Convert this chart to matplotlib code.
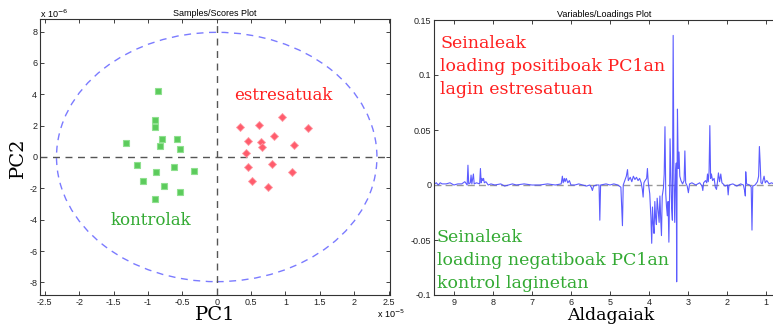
import matplotlib
matplotlib.use("Agg")
import matplotlib.pyplot as plt
import numpy as np
from matplotlib.patches import Ellipse

# ---------------- data ----------------
# scores (PC1 in units of 1e-5, PC2 in units of 1e-6)
kontrol_pc1 = [-0.86, -0.90, -0.90, -1.32, -0.80, -0.58, -0.83, -0.54,
               -1.16, -0.89, -0.62, -0.33, -1.07, -0.77, -0.54, -0.90]
kontrol_pc2 = [4.24, 2.39, 1.89, 0.89, 1.12, 1.12, 0.70, 0.53,
               -0.53, -0.97, -0.61, -0.89, -1.53, -1.86, -2.22, -2.71]
estres_pc1 = [0.34, 0.62, 0.95, 1.33, 0.46, 0.64, 0.84, 0.66,
              1.12, 0.42, 0.46, 0.80, 1.10, 0.51, 0.75]
estres_pc2 = [1.89, 2.03, 2.56, 1.86, 1.02, 0.97, 1.33, 0.61,
              0.78, 0.25, -0.61, -0.44, -0.97, -1.53, -1.89]
ellipse_a = 2.33   # PC1 semi-axis (1e-5)
ellipse_b = 7.95   # PC2 semi-axis (1e-6)

# loadings spectrum (ppm, PC1 loading)
ppm = [9.50, 9.45, 9.40, 9.35, 9.30, 9.20, 9.10, 9.00, 8.90, 8.80, 8.72, 8.66,
       8.64, 8.62, 8.58, 8.56, 8.54, 8.50, 8.48, 8.42, 8.34, 8.32, 8.30, 8.28,
       8.26, 8.24, 8.22, 8.18, 8.12, 8.05, 7.95, 7.80, 7.70, 7.60, 7.50, 7.40,
       7.20, 7.00, 6.80, 6.60, 6.40, 6.25, 6.22, 6.20, 6.17, 6.15, 6.12, 6.08,
       6.04, 6.00, 5.90, 5.80, 5.70, 5.60, 5.52, 5.48, 5.45, 5.42, 5.35, 5.28,
       5.26, 5.24, 5.10, 5.00, 4.90, 4.80, 4.72, 4.68, 4.66, 4.62, 4.58, 4.55,
       4.53, 4.48, 4.44, 4.40, 4.36, 4.32, 4.28, 4.24, 4.20, 4.17, 4.15, 4.13,
       4.10, 4.06, 4.04, 4.02, 3.98, 3.95, 3.93, 3.91, 3.89, 3.87, 3.85, 3.83,
       3.81, 3.79, 3.76, 3.74, 3.72, 3.70, 3.68, 3.66, 3.63, 3.61, 3.59, 3.57,
       3.55, 3.53, 3.51, 3.49, 3.47, 3.46, 3.44, 3.42, 3.40, 3.38, 3.36, 3.34,
       3.32, 3.30, 3.29, 3.28, 3.27, 3.25, 3.23, 3.21, 3.18, 3.14, 3.10, 3.08,
       3.06, 3.02, 2.99, 2.96, 2.90, 2.80, 2.70, 2.64, 2.62, 2.60, 2.55, 2.52,
       2.50, 2.48, 2.46, 2.44, 2.42, 2.40, 2.37, 2.33, 2.30, 2.27, 2.24, 2.22,
       2.19, 2.16, 2.13, 2.10, 2.05, 1.99, 1.97, 1.95, 1.85, 1.75, 1.65, 1.58,
       1.55, 1.53, 1.52, 1.50, 1.42, 1.38, 1.36, 1.34, 1.28, 1.22, 1.19, 1.17,
       1.15, 1.13, 1.10, 1.05, 1.02, 0.98, 0.92, 0.86, 0.80, 0.78]
loading = [0.001, 0.002, 0.000, 0.002, 0.001, 0.001, 0.002, 0.000, 0.001, 0.001, 0.003, 0.000,
           0.018, 0.001, 0.002, 0.009, 0.001, 0.010, 0.001, 0.002, 0.001, 0.015, 0.002, 0.006,
           0.004, 0.006, 0.002, 0.003, 0.000, 0.001, 0.000, 0.001, -0.001, 0.000, 0.001, 0.000,
           0.001, 0.000, 0.000, 0.001, 0.000, 0.001, 0.008, 0.002, 0.006, 0.003, 0.006, 0.002,
           0.004, 0.000, 0.000, 0.001, 0.000, -0.001, 0.000, -0.002, -0.005, -0.001, 0.000, 0.000,
           -0.032, 0.000, 0.001, 0.000, 0.001, 0.000, -0.002, -0.037, 0.000, 0.004, 0.008, 0.014,
           0.004, 0.007, 0.003, 0.008, 0.005, 0.007, 0.004, 0.006, 0.002, -0.004, -0.011, 0.002,
           0.004, 0.006, 0.015, 0.003, -0.008, -0.030, -0.053, -0.020, -0.035, -0.044, -0.015, -0.030,
           -0.036, -0.012, -0.025, -0.034, -0.010, -0.030, -0.046, -0.010, -0.003, 0.010, 0.053, -0.008,
           -0.020, -0.028, -0.015, -0.052, -0.005, 0.042, 0.010, -0.020, -0.032, 0.136, 0.005, -0.034,
           0.010, 0.020, -0.088, 0.005, 0.069, 0.015, 0.030, 0.008, 0.004, 0.001, 0.004, 0.031,
           0.002, -0.001, -0.007, 0.001, 0.002, 0.000, 0.002, -0.001, -0.005, 0.002, 0.004, 0.002,
           0.010, 0.003, 0.012, 0.054, 0.006, 0.010, 0.004, 0.006, -0.002, -0.004, 0.004, 0.011,
           0.003, 0.010, 0.002, 0.001, -0.001, 0.000, -0.009, 0.000, 0.001, -0.001, 0.001, 0.000,
           -0.005, -0.010, 0.012, 0.001, 0.000, -0.002, -0.041, -0.001, 0.000, 0.003, 0.008, 0.035,
           0.020, 0.002, 0.001, 0.008, 0.002, 0.004, 0.001, 0.002, 0.001, 0.000]

left_xticks = [-2.5, -2, -1.5, -1, -0.5, 0, 0.5, 1, 1.5, 2, 2.5]
left_xticklabels = ["-2.5", "-2", "-1.5", "-1", "-0.5", "0", "0.5", "1", "1.5", "2", "2.5"]
left_yticks = [-8, -6, -4, -2, 0, 2, 4, 6, 8]
left_yticklabels = ["-8", "-6", "-4", "-2", "0", "2", "4", "6", "8"]
right_xticks = [9, 8, 7, 6, 5, 4, 3, 2, 1]
right_yticks = [-0.1, -0.05, 0, 0.05, 0.1, 0.15]
right_yticklabels = ["-0.1", "-0.05", "0", "0.05", "0.1", "0.15"]

# ---------------- figure ----------------
W, H = 773, 324
fig = plt.figure(figsize=(W / 100, H / 100), dpi=100)
serif = "DejaVu Serif"

def box(l, t, r, b):
    return [l / W, 1 - b / H, (r - l) / W, (b - t) / H]

def style(ax, right=True):
    ax.tick_params(direction="in", length=3, width=0.6, top=True, right=right,
                   labelsize=6.5, pad=2, colors="#222222")
    for lab in ax.get_xticklabels() + ax.get_yticklabels():
        lab.set_family("Liberation Sans")
    for s in ax.spines.values():
        s.set_linewidth(0.8)
        s.set_color("#333333")

# Left: scores
ax1 = fig.add_axes(box(40, 19, 390, 295))
ax1.set_xlim(-2.57, 2.52)
ax1.set_ylim(-8.8, 8.8)
ax1.axhline(0, color="#555555", ls=(0, (5, 4)), lw=1.0)
ax1.axvline(0, color="#555555", ls=(0, (5, 4)), lw=1.0)
ax1.add_patch(Ellipse((0, 0), 2 * ellipse_a, 2 * ellipse_b, fill=False,
                      ec="#7b7bff", ls=(0, (5, 4)), lw=1.0))
ax1.plot(kontrol_pc1, kontrol_pc2, ls="none", marker="s", ms=5,
         mfc="#5ccb5c", mec="#8fe08f", mew=0.8)
ax1.plot(estres_pc1, estres_pc2, ls="none", marker="D", ms=3.6,
         mfc="#ff5c6c", mec="#ff9aa4", mew=0.6)
ax1.set_xticks(left_xticks)
ax1.set_xticklabels(left_xticklabels)
ax1.set_yticks(left_yticks)
ax1.set_yticklabels(left_yticklabels)
style(ax1)
ax1.set_title("Samples/Scores Plot", fontsize=6.5, family="Liberation Sans", pad=2.5)
fig.text(40 / W, 1 - 14 / H, r"x 10$^{-6}$", fontsize=6.5, family="Liberation Sans", va="center", ha="left")
fig.text(377 / W, 1 - 314 / H, r"x 10$^{-5}$", fontsize=6.5, family="Liberation Sans", va="center", ha="left")
ax1.text(0.25, 3.9, "estresatuak", color="#ff2020", fontsize=12, family=serif, ha="left", va="center")
ax1.text(-1.55, -4.05, "kontrolak", color="#33aa33", fontsize=12, family=serif, ha="left", va="center")
fig.text(215 / W, 1 - 315 / H, "PC1", fontsize=14, family=serif, ha="center", va="center")
fig.text(18 / W, 1 - 158 / H, "PC2", fontsize=14, family=serif, ha="center", va="center", rotation=90)

# Right: loadings
ax2 = fig.add_axes(box(434, 20, 775, 295))
ax2.set_xlim(9.51, 0.77)
ax2.set_ylim(-0.1, 0.15)
ax2.axhline(0, color="#999999", ls=(0, (5, 3)), lw=1.0)
ax2.plot(ppm, loading, color="#4a4aff", lw=0.8, alpha=0.9)
ax2.set_xticks(right_xticks)
ax2.set_yticks(right_yticks)
ax2.set_yticklabels(right_yticklabels)
style(ax2, right=False)
ax2.set_title("Variables/Loadings Plot", fontsize=6.5, family="Liberation Sans", pad=2.5)
red_lines = ["Seinaleak", "loading positiboak PC1an", "lagin estresatuan"]
green_lines = ["Seinaleak", "loading negatiboak PC1an", "kontrol laginetan"]
for i, t in enumerate(red_lines):
    fig.text(440 / W, 1 - (43 + 23.3 * i) / H, t, color="#ff2020", fontsize=12.5,
             family=serif, ha="left", va="center")
for i, t in enumerate(green_lines):
    fig.text(437 / W, 1 - (237 + 23.3 * i) / H, t, color="#33aa33", fontsize=12.5,
             family=serif, ha="left", va="center")
fig.text(611 / W, 1 - 316 / H, "Aldagaiak", fontsize=12.5, family=serif, ha="center", va="center")

fig.savefig("out.png", dpi=100)
